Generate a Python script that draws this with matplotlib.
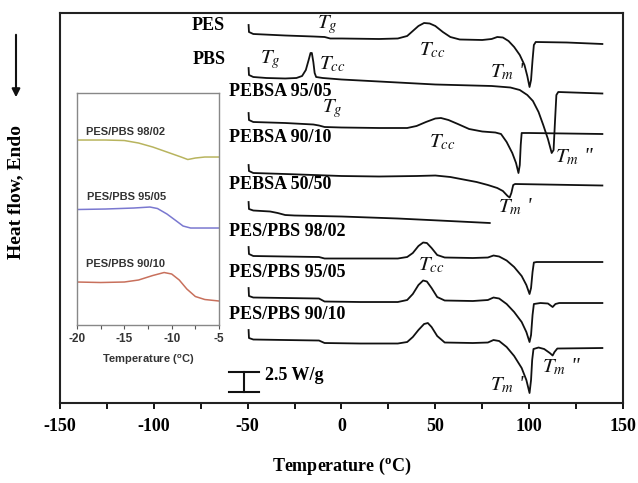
import matplotlib
matplotlib.use('Agg')
import matplotlib.pyplot as plt
import numpy as np

plt.rcParams['mathtext.fontset'] = 'stix'
plt.rcParams['axes.unicode_minus'] = False

# DSC traces, (temperature in C, heat flow in arbitrary units, downward = endo)
pes = [(-49.5, 25), (-49.3, 32), (-47, 34), (-30, 35.5), (-15, 36.5), (-9, 37), (-6, 38.5),
       (0, 38.5), (20, 39), (30, 38.5), (35, 36), (38, 31), (41, 26), (44, 23), (47, 23.5),
       (50, 26), (54, 32), (58, 37), (63, 39.5), (75, 40), (80, 39), (83, 37), (86, 37.5),
       (89, 41), (92, 47), (95, 55), (97.5, 65), (99, 76), (100.2, 87), (101, 80),
       (101.8, 60), (102.5, 45), (103.5, 42), (120, 42.5), (139, 44)]
pbs = [(-49.5, 68), (-49.3, 75), (-47, 77), (-40, 78), (-30, 78.5), (-24, 78), (-21, 76),
       (-19, 70), (-17.5, 60), (-16.5, 53), (-15.8, 53), (-15, 62), (-14.3, 73), (-13.5, 77),
       (-10, 78), (0, 79.5), (20, 81.5), (50, 84.5), (80, 86), (90, 87.5), (95, 90), (99, 95),
       (102, 101), (105, 112), (107.5, 125), (110, 139), (112, 153), (113, 150),
       (113.8, 120), (114.5, 95), (115.5, 92), (139, 93.5)]
pebsa_95_05 = [(-49.5, 113), (-49.3, 120), (-47, 122), (-30, 123), (-15, 124.5), (-12, 125.5),
               (-9, 127), (0, 127.5), (20, 128), (35, 128), (40, 126), (45, 122), (50, 118.5),
               (53, 118), (57, 120), (62, 124), (68, 129), (75, 131.5), (82, 132.5), (85, 134),
               (88, 142), (91, 153), (93, 163), (94.3, 173), (95, 165), (95.5, 145), (96, 133),
               (100, 133), (139, 134)]
pebsa_90_10 = [(-49.5, 165), (-49.3, 171), (-47, 173), (-30, 174), (0, 176), (20, 176.5),
               (40, 176), (50, 175.5), (58, 177), (65, 179.5), (72, 182), (78, 185), (83, 188),
               (86, 191), (88.5, 196), (89.6, 197.5), (90.5, 193), (91.5, 185), (92.5, 184),
               (139, 185.5)]
pebsa_50_50 = [(-49.5, 202), (-49.3, 209), (-47, 210.5), (-38, 211.5), (-34, 213), (-30, 215),
               (-25, 215.5), (0, 216.5), (30, 218.5), (52, 220.5), (79, 223)]
blend_98_02 = [(-49.5, 247), (-49.3, 254), (-47, 256), (-30, 256.5), (-12, 257), (-9, 258.5),
               (10, 258.5), (30, 258.5), (35, 257), (38, 253), (41, 246), (43.5, 242.5),
               (45.5, 243), (48, 248), (51, 255), (55, 257.5), (70, 258), (78, 257.5), (81, 255.5),
               (84, 256.5), (88, 260.5), (92, 267), (96, 276), (98.5, 285), (100.2, 294),
               (101, 288), (101.8, 272), (102.5, 262.5), (104, 262), (139, 262)]
blend_95_05 = [(-49.5, 288), (-49.3, 296), (-47, 297.5), (-30, 298), (-12, 298.5), (-9, 301.5),
               (10, 302), (30, 302), (35, 300), (38, 294), (41, 285), (43.5, 280.5), (45.5, 281.5),
               (48, 288), (51, 297), (55, 300.5), (70, 301), (78, 300), (81, 297.5), (84, 298.5),
               (88, 304), (92, 312), (96, 322), (98.5, 332), (100.2, 342), (101, 335),
               (101.8, 315), (102.5, 304), (106, 303), (110, 303.5), (112.5, 307), (114, 304),
               (116, 303), (139, 303)]
blend_90_10 = [(-49.5, 330), (-49.3, 338), (-47, 339.5), (-30, 340), (-12, 340.5), (-9, 343),
               (10, 343.5), (30, 343.5), (35, 342), (38, 337), (41, 330), (44, 324), (46, 323),
               (48, 327), (51, 336), (55, 342.5), (70, 343), (78, 342.5), (81, 340), (84, 341),
               (88, 347), (92, 356), (96, 368), (98.5, 380), (100.2, 393), (101, 380),
               (101.6, 360), (102.3, 349), (105, 347.5), (108, 349), (111, 353), (112.5, 355.5),
               (113.5, 352), (115, 348.5), (139, 348)]

curves = [pes, pbs, pebsa_95_05, pebsa_90_10, pebsa_50_50, blend_98_02, blend_95_05, blend_90_10]
names = ['PES', 'PBS', 'PEBSA 95/05', 'PEBSA 90/10', 'PEBSA 50/50',
         'PES/PBS 98/02', 'PES/PBS 95/05', 'PES/PBS 90/10']

# inset: glass transition region of the blends
inset_98_02 = [(-20, 140), (-17, 140), (-15, 140.5), (-13.5, 143), (-12, 147), (-10.5, 152),
               (-9, 157), (-8.3, 159.5), (-7.5, 158), (-6.5, 157), (-5, 157)]
inset_95_05 = [(-20, 209.5), (-17, 209), (-14, 208), (-12.3, 207), (-11.5, 208.5), (-10.5, 214),
               (-9.5, 221), (-8.8, 226), (-8, 228), (-5, 228)]
inset_90_10 = [(-20, 282), (-17.5, 282.5), (-15, 282), (-13.5, 280), (-12, 275.5), (-10.8, 272.5),
               (-10, 274), (-9.2, 280), (-8.4, 289), (-7.5, 296.5), (-6.5, 299.5), (-5, 301)]
inset_colors = ['#b8b45e', '#7a78d0', '#c8705c']
inset_names = ['PES/PBS 98/02', 'PES/PBS 95/05', 'PES/PBS 90/10']

serif = 'Liberation Serif'
sans = 'Liberation Sans'

fig = plt.figure(figsize=(6.38, 4.83), dpi=100)
ax = fig.add_axes([0.094, 0.1656, 0.8825, 0.8075])

for c in curves:
    a = np.array(c)
    ax.plot(a[:, 0], a[:, 1], color='#111111', lw=1.3)

ax.set_xlim(-150, 150)
ax.set_ylim(403, 13)
ax.set_yticks([])
ax.set_xticks([-150, -100, -50, 0, 50, 100, 150])
ax.set_xticks(np.arange(-125, 150, 50), minor=True)
ax.tick_params(axis='x', which='both', direction='out', length=4, width=1.3, pad=7)
for lab in ax.get_xticklabels():
    lab.set_fontfamily(serif)
    lab.set_fontweight('bold')
    lab.set_fontsize(13)
for s in ax.spines.values():
    s.set_linewidth(1.5)
    s.set_color('#222222')

# curve names
tkw = dict(fontfamily=serif, fontweight='bold', fontsize=13, va='center')
ax.text(-70.9, 26, names[0], ha='center', **tkw)
ax.text(-70.4, 60, names[1], ha='center', **tkw)
for name, y in zip(names[2:], [92, 138, 184, 231, 272, 314]):
    ax.text(-59.7, y, name, ha='left', **tkw)

# transition annotations
mkw = dict(fontsize=15, ha='center', va='center', color='#111111', fontfamily=serif,
           fontstyle='italic')
ax.text(-7.5, 25, r'$T_g$', **mkw)
ax.text(-37.8, 60, r'$T_g$', **mkw)
ax.text(-4.8, 64, r'$T_{cc}$', **mkw)
ax.text(48.5, 50, r'$T_{cc}$', **mkw)
ax.text(88.5, 72, r"$T_m$ '", **mkw)
ax.text(-5, 109, r'$T_g$', **mkw)
ax.text(53.8, 142, r'$T_{cc}$', **mkw)
ax.text(124, 157, r'$T_m$ "', **mkw)
ax.text(92.5, 207, r"$T_m$ '", **mkw)
ax.text(48, 265, r'$T_{cc}$', **mkw)
ax.text(117.5, 367, r'$T_m$ "', **mkw)
ax.text(88.5, 385, r"$T_m$ '", **mkw)

# 2.5 W/g scale bar
ax.plot([-60.2, -43.7], [372, 372], color='#111111', lw=1.5)
ax.plot([-60.2, -43.7], [392, 392], color='#111111', lw=1.5)
ax.plot([-51.7, -51.7], [372, 392], color='#111111', lw=1.5)
ax.text(-41, 375, '2.5 W/g', ha='left', **tkw)

ax.set_xlabel('Temperature ($\\mathregular{^o}$C)', fontfamily=serif, fontweight='bold',
              fontsize=13, labelpad=15)

fig.text(16 / 638, 1 - 192 / 483, 'Heat flow, Endo', rotation=90, ha='center', va='center',
         fontfamily=serif, fontweight='bold', fontsize=14)
fig.add_artist(matplotlib.patches.FancyArrowPatch((16 / 638, 1 - 32 / 483), (16 / 638, 1 - 100 / 483),
               transform=fig.transFigure, arrowstyle='-|>', mutation_scale=12,
               color='#111111', lw=1.5))

# inset
ins = fig.add_axes([0.1207, 0.3271, 0.2226, 0.4803])
for c, col in zip([inset_98_02, inset_95_05, inset_90_10], inset_colors):
    a = np.array(c)
    ins.plot(a[:, 0], a[:, 1], color=col, lw=1.1)
ins.set_xlim(-20, -5)
ins.set_ylim(325, 93)
ins.set_yticks([])
ins.set_xticks([-20, -15, -10, -5])
ins.set_xticks([-17.5, -12.5, -7.5], minor=True)
ins.tick_params(axis='x', which='both', direction='out', length=3, width=0.8,
                colors='#555555', labelcolor='#333333', pad=3)
for lab in ins.get_xticklabels():
    lab.set_fontfamily(sans)
    lab.set_fontweight('bold')
    lab.set_fontsize(8.5)
for s in ins.spines.values():
    s.set_color('#888888')
    s.set_linewidth(1.0)
ins.set_xlabel('Temperature ($\\mathregular{^o}$C)', fontfamily=sans, fontweight='bold',
               fontsize=8, color='#333333', labelpad=5)
ikw = dict(fontfamily=sans, fontweight='bold', fontsize=8, color='#333333', ha='left', va='center')
for name, y, x in zip(inset_names, [132, 197, 264], [-19.1, -18.9, -19.1]):
    ins.text(x, y, name, **ikw)

fig.savefig('out.png', dpi=100)
